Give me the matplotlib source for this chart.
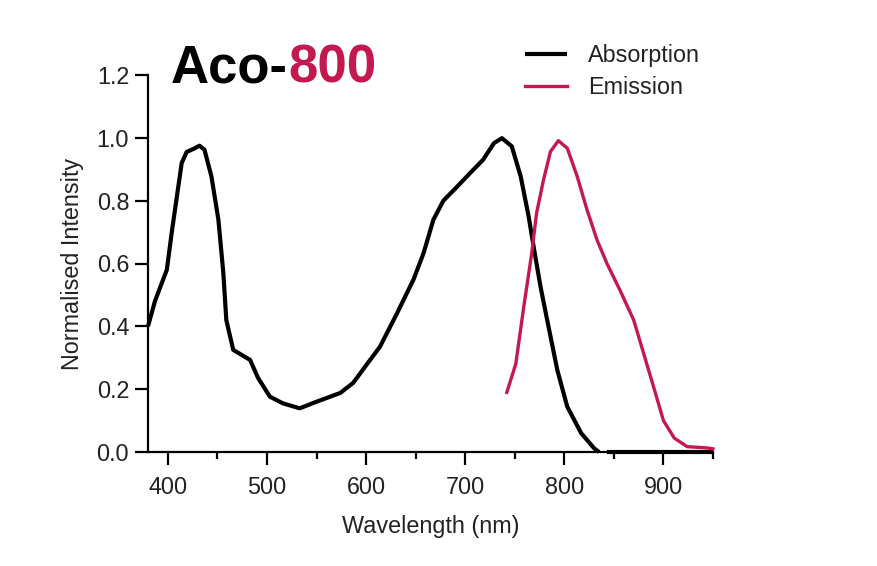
import numpy as np
import matplotlib
matplotlib.use("Agg")
import matplotlib.pyplot as plt

plt.rcParams['font.family'] = ['Liberation Sans', 'DejaVu Sans']

# Absorption spectrum
abs_wl = [380, 387, 399, 404, 409, 414, 419, 426, 432, 437, 444, 451, 456, 459,
          466, 474, 483, 491, 503, 516, 533, 550, 574, 587, 601, 614, 631, 648,
          658, 668, 678, 692, 705, 718, 729, 737, 747, 756, 764, 769, 776, 784,
          793, 803, 817, 830, 835, np.nan, 843, 950]
abs_val = [0.40, 0.48, 0.58, 0.70, 0.81, 0.92, 0.955, 0.965, 0.975, 0.962, 0.877,
           0.74, 0.57, 0.42, 0.325, 0.31, 0.293, 0.236, 0.176, 0.155, 0.139, 0.16,
           0.188, 0.22, 0.28, 0.335, 0.44, 0.55, 0.633, 0.74, 0.80, 0.845, 0.888,
           0.93, 0.983, 0.999, 0.973, 0.877, 0.75, 0.654, 0.526, 0.40, 0.26, 0.144,
           0.06, 0.012, 0.0, np.nan, 0.0, 0.0]

# Emission spectrum
em_wl = [742, 751, 759, 767, 772, 779, 786, 794, 803, 813, 823, 833, 843, 856,
         870, 880, 890, 900, 911, 924, 944, 950]
em_val = [0.19, 0.28, 0.46, 0.63, 0.76, 0.866, 0.956, 0.991, 0.967, 0.877, 0.77,
          0.675, 0.60, 0.516, 0.42, 0.314, 0.208, 0.10, 0.044, 0.017, 0.013, 0.01]

xticks = [400, 500, 600, 700, 800, 900]
yticks = [0.0, 0.2, 0.4, 0.6, 0.8, 1.0, 1.2]

crimson = '#c4184f'
W, H = 878, 566
fs = 16.8

fig = plt.figure(figsize=(W / 100, H / 100), dpi=100)
ax = fig.add_axes([148 / W, 1 - 452 / H, (713 - 148) / W, (452 - 75) / H])

l1, = ax.plot(abs_wl, abs_val, color='black', lw=3.0, clip_on=False,
              solid_joinstyle='round', solid_capstyle='butt', label='Absorption', zorder=3)
l2, = ax.plot(em_wl, em_val, color=crimson, lw=2.4, clip_on=False,
              solid_joinstyle='round', label='Emission', zorder=3)

ax.set_xlim(380, 950)
ax.set_ylim(0, 1.2)
ax.set_xticks(xticks)
ax.set_xticks(np.arange(450, 951, 100), minor=True)
ax.set_yticks(yticks)
ax.set_yticklabels([f'{v:.1f}' for v in yticks])

for s in ['top', 'right']:
    ax.spines[s].set_visible(False)
for s in ['left', 'bottom']:
    ax.spines[s].set_linewidth(1.6)

ax.tick_params(axis='both', which='major', length=9.5, width=1.6, labelsize=fs,
               labelcolor='#222222', pad=4)
ax.tick_params(axis='x', which='major', pad=8)
ax.tick_params(axis='x', which='minor', length=5, width=1.6)

ax.set_xlabel('Wavelength (nm)', fontsize=fs, color='#222222', labelpad=11)
ax.set_ylabel('Normalised Intensity', fontsize=fs, color='#222222', labelpad=9)

leg = ax.legend(handles=[l1, l2], loc='upper left', bbox_to_anchor=(525 / W, 1 - 44 / H),
                bbox_transform=fig.transFigure, frameon=False, fontsize=fs,
                handlelength=1.8, handletextpad=0.9, labelspacing=0.4,
                borderpad=0, borderaxespad=0)
for t in leg.get_texts():
    t.set_color('#222222')

# title: "Aco-" in black, "800" in crimson
t1 = fig.text(171 / W, 1 - 83 / H, 'Aco-', fontsize=38, fontweight='bold',
              color='black', va='baseline', ha='left')
r = fig.canvas.get_renderer()
bb = t1.get_window_extent(renderer=r)
fig.text(bb.x1 / W, 1 - 83 / H, '800', fontsize=38, fontweight='bold',
         color=crimson, va='baseline', ha='left')

fig.savefig('out.png', dpi=100)
